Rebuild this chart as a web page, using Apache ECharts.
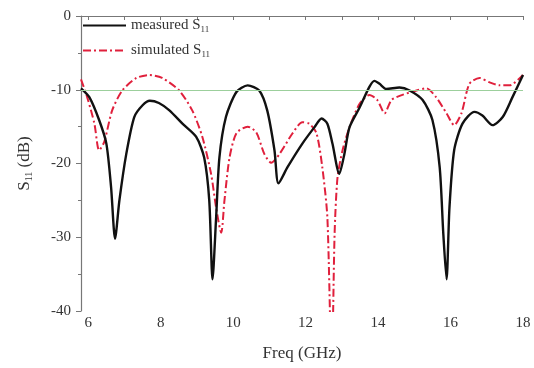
<!DOCTYPE html>
<html>
<head>
<meta charset="utf-8">
<script src="https://cdn.jsdelivr.net/npm/echarts@6/dist/echarts.min.js"></script>
<style>
html,body{margin:0;padding:0;background:#fff;}
#chart{width:534px;height:368px;}
</style>
</head>
<body>
<div id="chart"></div>
<script>
// measured S11 (black)
var measuredFreq = [5.8, 6.03, 6.3, 6.5, 6.63, 6.74, 6.86, 7.05, 7.27, 7.5, 7.7, 7.95, 8.24, 8.6, 8.98, 9.2, 9.34, 9.43, 9.53, 9.62, 9.8, 10.09, 10.4, 10.72, 10.94, 11.14, 11.25, 11.5, 11.91, 12.24, 12.44, 12.6, 12.74, 12.93, 13.07, 13.21, 13.49, 13.76, 13.9, 14.04, 14.23, 14.59, 14.87, 15.23, 15.5, 15.7, 15.8, 15.89, 15.97, 16.1, 16.33, 16.66, 16.88, 17.16, 17.44, 17.71, 18];
var measuredS11 = [-9.8, -11.0, -14.1, -17.3, -23.2, -30.2, -25, -18.7, -13.7, -12.1, -11.5, -11.8, -12.8, -14.6, -16.4, -19.2, -25, -35.7, -27.3, -19.2, -13.7, -10.3, -9.4, -10.1, -12.8, -18.2, -22.7, -20.5, -17.3, -15.1, -13.9, -14.6, -17.3, -21.4, -18.7, -15.1, -12.4, -9.6, -8.8, -9.2, -9.9, -9.7, -10.1, -11.4, -14.1, -20.5, -29.5, -35.7, -26, -18.2, -14.6, -13.0, -13.5, -14.8, -13.7, -11.0, -8.0];

// simulated S11 (red dash-dot)
var simulatedFreq = [5.8, 5.97, 6.17, 6.3, 6.44, 6.66, 6.94, 7.33, 7.69, 8.04, 8.51, 8.87, 9.15, 9.39, 9.53, 9.67, 9.76, 9.9, 10.09, 10.4, 10.64, 10.86, 11.05, 11.28, 11.64, 11.91, 12.1, 12.3, 12.46, 12.6, 12.72, 12.8, 12.88, 13.02, 13.21, 13.49, 13.76, 13.98, 14.18, 14.37, 14.67, 15.06, 15.33, 15.6, 15.89, 16.1, 16.3, 16.52, 16.8, 17.08, 17.35, 17.63, 18];
var simulatedS11 = [-8.6, -11.0, -14.6, -18.2, -17.1, -12.8, -10.1, -8.4, -8.0, -8.4, -10.1, -12.8, -16.4, -21.4, -26, -29.4, -25, -19.2, -15.9, -15.0, -15.8, -18.7, -19.9, -18.7, -15.9, -14.4, -14.6, -15.9, -20.5, -27.3, -48, -29.5, -21.9, -18.2, -15.1, -11.9, -10.7, -11.4, -13.2, -11.4, -10.7, -10.1, -9.8, -11.0, -13.2, -14.8, -13.2, -9.2, -8.4, -9.0, -9.4, -9.4, -8.0];

var xMin = 5.8, xMax = 18;
var yMin = -40, yMax = 0;

function pairs(xs, ys){
	var out = [];
	for(var i = 0; i < xs.length; i++){
		out.push([xs[i], ys[i]]);
	}
	return out;
}

var font = 'Liberation Serif';
var gLeft = 81, gRight = 11, gTop = 16, gBottom = 57;
// second grid only carries the 6..18 tick scale (ticks every 1 GHz, labels every 2)
var pxPerGHz = (534 - gLeft - gRight) / (xMax - xMin);
var tickLeft = gLeft + (6 - xMin) * pxPerGHz;

var chart = echarts.init(document.getElementById('chart'));
chart.setOption({
	animation: false,
	grid: [
		{left: gLeft, top: gTop, right: gRight, bottom: gBottom},
		{left: tickLeft, top: gTop, right: gRight, bottom: gBottom}
	],
	legend: {
		orient: 'vertical',
		left: 82,
		top: 18,
		padding: 0,
		itemWidth: 43,
		itemHeight: 14,
		itemGap: 9,
		itemStyle: {opacity: 0},
		formatter: function(name){
			return '{a|' + name.replace('11', '') + '}{b|11}';
		},
		textStyle: {
			fontFamily: font,
			color: '#333',
			rich: {
				a: {fontFamily: font, fontSize: 15, color: '#333'},
				b: {fontFamily: font, fontSize: 9, color: '#333', padding: [8, 0, 0, 0]}
			}
		},
		data: ['measured S11', 'simulated S11']
	},
	xAxis: [{
		gridIndex: 0,
		type: 'value',
		min: xMin,
		max: xMax,
		name: 'Freq (GHz)',
		nameLocation: 'middle',
		nameGap: 34,
		nameTextStyle: {fontFamily: font, fontSize: 17, color: '#333'},
		axisLine: {lineStyle: {color: '#777', width: 1.2}},
		axisTick: {show: false},
		axisLabel: {show: false},
		splitLine: {show: false}
	}, {
		gridIndex: 1,
		type: 'value',
		min: 6,
		max: 18,
		interval: 1,
		axisLine: {show: false},
		axisTick: {show: true, length: 4, lineStyle: {color: '#777'}},
		axisLabel: {
			fontFamily: font, fontSize: 15, color: '#333', margin: 5,
			formatter: function(v){ return v % 2 === 0 ? String(v) : ''; }
		},
		splitLine: {show: false}
	}],
	yAxis: [{
		gridIndex: 0,
		type: 'value',
		min: yMin,
		max: yMax,
		interval: 10,
		name: '{a|S}{b|11}{a| (dB)}',
		nameLocation: 'middle',
		nameGap: 47,
		nameTextStyle: {
			fontFamily: font, fontSize: 17, color: '#333',
			rich: {
				a: {fontFamily: font, fontSize: 17, color: '#333'},
				b: {fontFamily: font, fontSize: 10, color: '#333', padding: [9, 0, 0, 0]}
			}
		},
		axisLine: {show: true, lineStyle: {color: '#777', width: 1.2}},
		axisTick: {show: true, length: 5, lineStyle: {color: '#777'}},
		minorTick: {show: true, splitNumber: 2, length: 3, lineStyle: {color: '#777'}},
		axisLabel: {fontFamily: font, fontSize: 15, color: '#333', margin: 10},
		splitLine: {show: false}
	}, {
		gridIndex: 1,
		type: 'value',
		min: yMin,
		max: yMax,
		show: false
	}],
	series: [{
		name: 'measured S11',
		type: 'line',
		xAxisIndex: 0,
		yAxisIndex: 0,
		data: pairs(measuredFreq, measuredS11),
		symbol: 'none',
		smooth: 0.25,
		z: 3,
		lineStyle: {color: '#111', width: 2.4},
		itemStyle: {color: '#111'},
		markLine: {
			silent: true,
			symbol: 'none',
			label: {show: false},
			lineStyle: {color: '#9ccf9c', width: 1, type: 'solid'},
			data: [{yAxis: -10}]
		}
	}, {
		name: 'simulated S11',
		type: 'line',
		xAxisIndex: 0,
		yAxisIndex: 0,
		data: pairs(simulatedFreq, simulatedS11),
		symbol: 'none',
		smooth: 0.25,
		z: 2,
		lineStyle: {color: '#e0203c', width: 2, type: [8, 3, 2, 3]},
		itemStyle: {color: '#e0203c'}
	}]
});
</script>
</body>
</html>
